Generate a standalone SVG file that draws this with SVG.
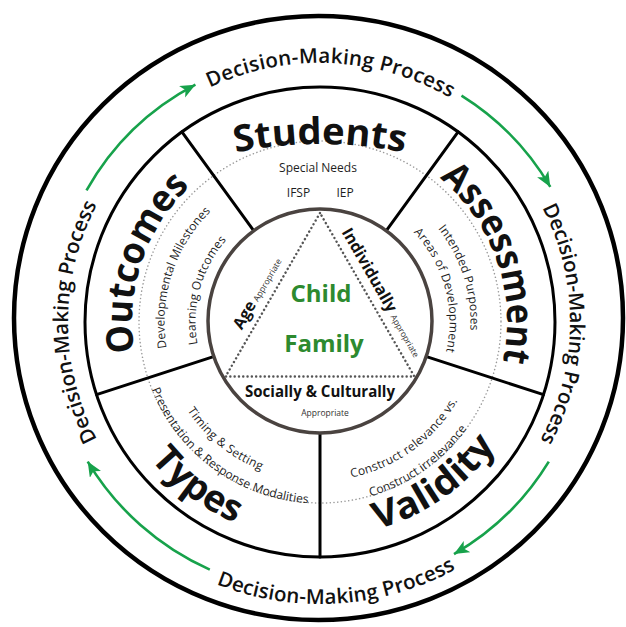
<svg xmlns="http://www.w3.org/2000/svg" width="626" height="627" viewBox="0 0 626 627">
  <style>
    text { font-family: "Open Sans", "Liberation Sans", sans-serif; }
    .ring-label { font-size: 20.5px; font-weight: 600; fill: #111; }
    .big { font-size: 37px; font-weight: 700; fill: #111; }
    .sub { font-size: 12px; fill: #1e1e1e; }
    .flow { fill: none; stroke: #17a24b; stroke-width: 2.6; marker-end: url(#head); }
    .divider { stroke: #000; stroke-width: 3; stroke-linecap: round; }
    .center-word { font-size: 24px; font-weight: 700; fill: #2d8a2f; }
    .facet { font-size: 16px; font-weight: 700; fill: #111; }
    .facet-small { font-size: 8.5px; font-weight: 400; fill: #333; }
  </style>
  <defs>
    <marker id="head" markerUnits="userSpaceOnUse" markerWidth="17" markerHeight="14" refX="15" refY="6.5" orient="auto">
      <path d="M0,0 L15,6.5 L0,13 L3.8,6.5 z" fill="#17a24b"/>
    </marker>
    <!-- outer ring label paths -->
    <path id="p-top" d="M162.3,116.5 A259,259 0 0 1 495.0,131.0"/>
    <path id="p-right" d="M512.9,163.0 A250,250 0 0 1 510.1,484.4"/>
    <path id="p-bottom" d="M152.7,549.0 A282,282 0 0 0 514.5,526.2"/>
    <path id="p-left" d="M127,484 A252,252 0 0 1 127,160"/>
    <!-- sector title paths -->
    <path id="p-students" d="M110,200.3 A420,420 0 0 1 530,200.3"/>
    <path id="p-outcomes" d="M159.7,420.2 A188,188 0 0 1 251.1,147.1"/>
    <path id="p-assessment" d="M387.0,147.4 A187,187 0 0 1 480.3,418.3"/>
    <path id="p-types" d="M104.2,352.7 A218,218 0 0 0 350.7,537.8"/>
    <path id="p-validity" d="M264.9,529.8 A215,215 0 0 0 534.2,340.2"/>
    <!-- sector detail paths -->
    <path id="p-devmile" d="M188.3,404.7 A155.5,155.5 0 0 1 261.4,178.0"/>
    <path id="p-learn" d="M217.4,392.5 A124.5,124.5 0 0 1 268.4,208.7"/>
    <path id="p-intended" d="M377.4,182.9 A150.5,150.5 0 0 1 447.1,402.6"/>
    <path id="p-areas" d="M374.1,204.3 A129.5,129.5 0 0 1 426.5,395.7"/>
    <path id="p-timing" d="M160.5,324.8 A159.5,159.5 0 0 0 350.4,478.6"/>
    <path id="p-present" d="M139.0,334.8 A181.5,181.5 0 0 0 364.1,498.1"/>
    <path id="p-relevance" d="M281.1,475.6 A158.5,158.5 0 0 0 478.1,333.6"/>
    <path id="p-irrelevance" d="M273.3,497.4 A181.5,181.5 0 0 0 500.8,337.5"/>
  </defs>

  <rect width="626" height="627" fill="#fff"/>

  <!-- outer ring with the process labels -->
  <g id="process-ring">
    <ellipse cx="318.5" cy="318" rx="304.5" ry="302" fill="none" stroke="#000" stroke-width="4.5"/>
    <text class="ring-label"><textPath href="#p-top" startOffset="50%" text-anchor="middle" textLength="250" lengthAdjust="spacing">Decision-Making Process</textPath></text>
    <text class="ring-label"><textPath href="#p-right" startOffset="50%" text-anchor="middle" textLength="242" lengthAdjust="spacing">Decision-Making Process</textPath></text>
    <text class="ring-label"><textPath href="#p-bottom" startOffset="50%" text-anchor="middle" textLength="248" lengthAdjust="spacing">Decision-Making Process</textPath></text>
    <text class="ring-label"><textPath href="#p-left" startOffset="50%" text-anchor="middle" textLength="244" lengthAdjust="spacing">Decision-Making Process</textPath></text>
  </g>

  <!-- clockwise flow arrows between the labels -->
  <g id="connectors">
    <path class="flow" d="M86.5,190.4 A268,268 0 0 1 195.4,84.7"/>
    <path class="flow" d="M461.5,95.6 A267,267 0 0 1 550.3,186.9"/>
    <path class="flow" d="M548.8,461.6 A268,268 0 0 1 454,554.1"/>
    <path class="flow" d="M209.8,569.6 A271,271 0 0 1 87.7,461.6"/>
  </g>

  <!-- five-sector wheel -->
  <g id="wheel">
    <circle cx="320" cy="322" r="235" fill="#fff" stroke="#000" stroke-width="3"/>
    <circle cx="320" cy="322" r="181" fill="none" stroke="#999" stroke-width="1.5" stroke-dasharray="0.1 3.6" stroke-linecap="round"/>
    <line class="divider" x1="385.8" y1="231.4" x2="458.1" y2="131.9"/>
    <line class="divider" x1="426.5" y1="356.6" x2="543.5" y2="394.6"/>
    <line class="divider" x1="320" y1="434" x2="320" y2="557"/>
    <line class="divider" x1="213.5" y1="356.6" x2="96.5" y2="394.6"/>
    <line class="divider" x1="254.2" y1="231.4" x2="181.9" y2="131.9"/>
  </g>

  <g id="students">
    <text class="big"><textPath href="#p-students" startOffset="50%" text-anchor="middle" textLength="170" lengthAdjust="spacingAndGlyphs">Students</textPath></text>
    <text class="sub" x="318" y="171.5" text-anchor="middle" font-size="12.5">Special Needs</text>
    <text class="sub" x="298.5" y="197" text-anchor="middle" font-size="12.5">IFSP</text>
    <text class="sub" x="345" y="197" text-anchor="middle" font-size="12.5">IEP</text>
  </g>

  <g id="assessment">
    <text class="big"><textPath href="#p-assessment" startOffset="50%" text-anchor="middle" textLength="204" lengthAdjust="spacingAndGlyphs">Assessment</textPath></text>
    <text class="sub"><textPath href="#p-intended" startOffset="50%" text-anchor="middle" textLength="109" lengthAdjust="spacing">Intended Purposes</textPath></text>
    <text class="sub"><textPath href="#p-areas" startOffset="50%" text-anchor="middle" textLength="129" lengthAdjust="spacing">Areas of Development</textPath></text>
  </g>

  <g id="validity">
    <text class="big"><textPath href="#p-validity" startOffset="50%" text-anchor="middle" textLength="148" lengthAdjust="spacingAndGlyphs">Validity</textPath></text>
    <text class="sub"><textPath href="#p-relevance" startOffset="50%" text-anchor="middle" textLength="135" lengthAdjust="spacing">Construct relevance vs.</textPath></text>
    <text class="sub"><textPath href="#p-irrelevance" startOffset="50%" text-anchor="middle" textLength="120" lengthAdjust="spacing">Construct irrelevance</textPath></text>
  </g>

  <g id="types">
    <text class="big"><textPath href="#p-types" startOffset="50%" text-anchor="middle" textLength="107" lengthAdjust="spacingAndGlyphs">Types</textPath></text>
    <text class="sub"><textPath href="#p-timing" startOffset="50%" text-anchor="middle" textLength="96" lengthAdjust="spacing">Timing &amp; Setting</textPath></text>
    <text class="sub"><textPath href="#p-present" startOffset="50%" text-anchor="middle" textLength="204" lengthAdjust="spacing">Presentation &amp; Response Modalities</textPath></text>
  </g>

  <g id="outcomes">
    <text class="big"><textPath href="#p-outcomes" startOffset="50%" text-anchor="middle" textLength="182" lengthAdjust="spacingAndGlyphs">Outcomes</textPath></text>
    <text class="sub"><textPath href="#p-devmile" startOffset="50%" text-anchor="middle" textLength="149" lengthAdjust="spacing">Developmental Milestones</textPath></text>
    <text class="sub"><textPath href="#p-learn" startOffset="50%" text-anchor="middle" textLength="112" lengthAdjust="spacing">Learning Outcomes</textPath></text>
  </g>

  <!-- central child / family hub -->
  <g id="child-family">
    <circle cx="320" cy="321" r="112" fill="#fff" stroke="#4a4340" stroke-width="3.5"/>
    <polygon points="320,213 225.6,376.5 414.4,376.5" fill="none" stroke="#555" stroke-width="2.4" stroke-dasharray="0.1 4.2" stroke-linecap="round"/>
    <text class="center-word" x="321" y="302" text-anchor="middle">Child</text>
    <text class="center-word" x="324" y="352" text-anchor="middle">Family</text>
    <text transform="translate(241.8,330.4) rotate(-60)"><tspan class="facet">Age</tspan><tspan class="facet-small" dx="3">Appropriate</tspan></text>
    <text transform="translate(341.3,231.9) rotate(60)"><tspan class="facet">Individually</tspan><tspan class="facet-small" dx="4">Appropriate</tspan></text>
    <text class="facet" x="320" y="397" text-anchor="middle" textLength="150" lengthAdjust="spacingAndGlyphs">Socially &amp; Culturally</text>
    <text class="facet-small" x="325" y="416" text-anchor="middle" font-size="9">Appropriate</text>
  </g>
</svg>
